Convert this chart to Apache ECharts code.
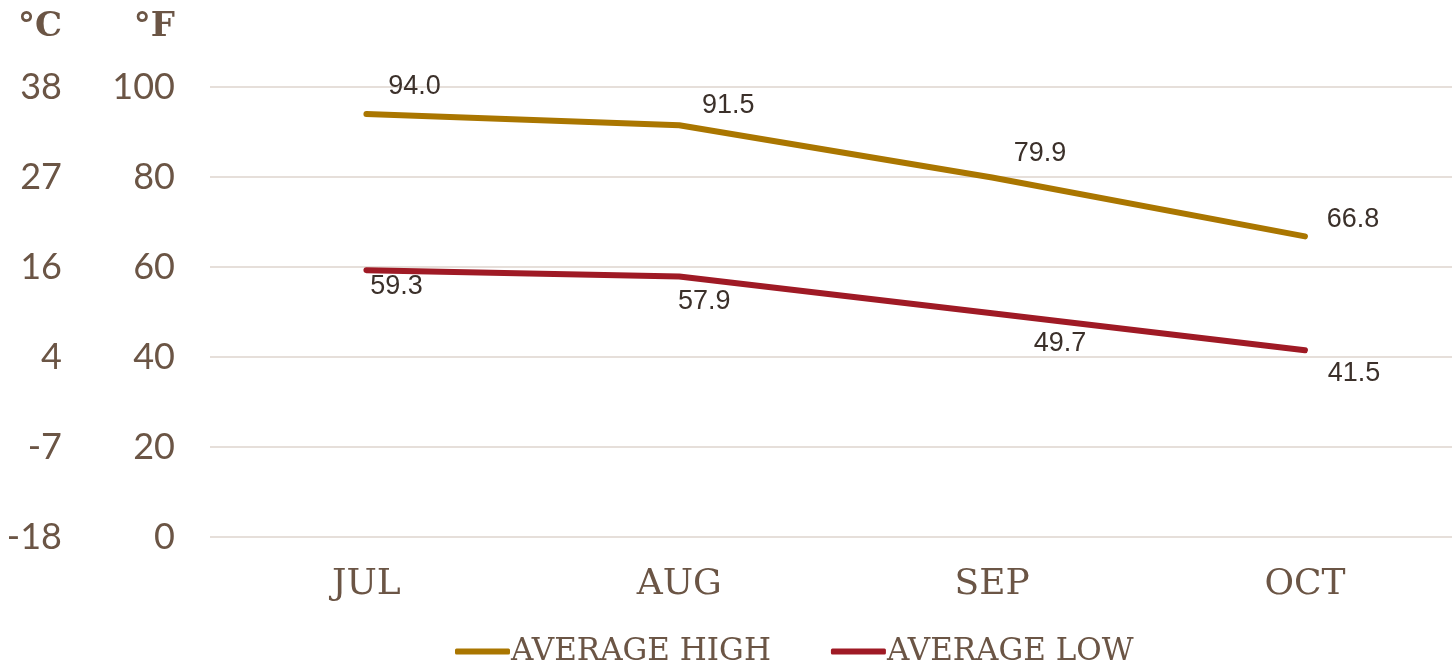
<!DOCTYPE html>
<html>
<head>
<meta charset="utf-8">
<script src="https://cdn.jsdelivr.net/npm/echarts@6/dist/echarts.min.js"></script>
<style>
  html, body { margin: 0; padding: 0; background: #ffffff; }
  #chart { width: 1452px; height: 664px; }
</style>
</head>
<body>
<div id="chart"></div>
<script>
// Monthly average temperatures (°F)
const months = ['JUL', 'AUG', 'SEP', 'OCT'];
const averageHigh = [94.0, 91.5, 79.9, 66.8];
const averageLow = [59.3, 57.9, 49.7, 41.5];
const fahrenheitTicks = [0, 20, 40, 60, 80, 100];

// Label placement relative to each point
const highLabelOffsets = [[48, -27], [49, -20], [48, -24], [48, -17]];
const lowLabelOffsets = [[30, 16], [25, 25], [68, 30], [49, 23]];

const TEXT = '#6b5545';
const LABEL = '#3b302a';
const HIGH = '#aa7600';
const LOW = '#9f1a25';
const SERIF = "'DejaVu Serif', 'Liberation Serif', serif";

const toCelsius = f => Math.round((f - 32) * 5 / 9);

// Months sit at integer positions on the x axis; the plot runs past the right edge.
function withLabels(values, offsets) {
  return values.map((v, i) => ({
    value: [i, v],
    label: { offset: offsets[i] }
  }));
}

const chart = echarts.init(document.getElementById('chart'));
chart.setOption({
  animation: false,
  grid: { left: 210, right: 0, top: 87, bottom: 127, containLabel: false },
  xAxis: {
    type: 'value',
    min: -0.5,
    max: 3.47,
    interval: 0.5,
    axisLine: { show: false, onZero: false },
    axisTick: { show: false },
    splitLine: { show: false },
    axisLabel: {
      color: TEXT,
      fontFamily: SERIF,
      fontSize: 36,
      margin: 30,
      showMinLabel: true,
      showMaxLabel: false,
      formatter: v => (Number.isInteger(v) && months[v] !== undefined) ? months[v] : ''
    }
  },
  yAxis: [
    {
      type: 'value',
      min: fahrenheitTicks[0],
      max: fahrenheitTicks[fahrenheitTicks.length - 1],
      interval: 20,
      position: 'left',
      name: '°F',
      nameLocation: 'end',
      nameGap: 43,
      nameTextStyle: {
        color: TEXT,
        fontFamily: SERIF,
        fontWeight: 'bold',
        fontSize: 34,
        align: 'right',
        padding: [0, 35, 0, 0]
      },
      axisLine: { show: false, onZero: false },
      axisTick: { show: false },
      splitLine: { lineStyle: { color: '#e6dfda', width: 2 } },
      axisLabel: {
        color: TEXT,
        fontFamily: 'Lato',
        fontSize: 36,
        margin: 35
      }
    },
    {
      type: 'value',
      min: fahrenheitTicks[0],
      max: fahrenheitTicks[fahrenheitTicks.length - 1],
      interval: 20,
      position: 'left',
      offset: 113,
      name: '°C',
      nameLocation: 'end',
      nameGap: 43,
      nameTextStyle: {
        color: TEXT,
        fontFamily: SERIF,
        fontWeight: 'bold',
        fontSize: 34,
        align: 'right',
        padding: [0, 35, 0, 0]
      },
      axisLine: { show: false, onZero: false },
      axisTick: { show: false },
      splitLine: { show: false },
      axisLabel: {
        color: TEXT,
        fontFamily: 'Lato',
        fontSize: 36,
        margin: 35,
        formatter: v => String(toCelsius(v))
      }
    }
  ],
  legend: {
    left: 450,
    bottom: -8,
    itemWidth: 55,
    itemHeight: 6,
    itemGap: 60,
    icon: 'roundRect',
    textStyle: {
      color: TEXT,
      fontFamily: SERIF,
      fontSize: 31,
      padding: [0, 0, 0, -4]
    },
    data: ['AVERAGE HIGH', 'AVERAGE LOW']
  },
  series: [
    {
      name: 'AVERAGE HIGH',
      type: 'line',
      data: withLabels(averageHigh, highLabelOffsets),
      symbol: 'circle',
      symbolSize: 2,
      color: HIGH,
      lineStyle: { width: 6, color: HIGH, cap: 'round', join: 'round' },
      label: {
        show: true,
        position: 'inside',
        color: LABEL,
        fontFamily: 'Liberation Sans',
        fontSize: 27,
        formatter: p => p.value[1].toFixed(1)
      }
    },
    {
      name: 'AVERAGE LOW',
      type: 'line',
      data: withLabels(averageLow, lowLabelOffsets),
      symbol: 'circle',
      symbolSize: 2,
      color: LOW,
      lineStyle: { width: 6, color: LOW, cap: 'round', join: 'round' },
      label: {
        show: true,
        position: 'inside',
        color: LABEL,
        fontFamily: 'Liberation Sans',
        fontSize: 27,
        formatter: p => p.value[1].toFixed(1)
      }
    }
  ]
});
</script>
</body>
</html>
